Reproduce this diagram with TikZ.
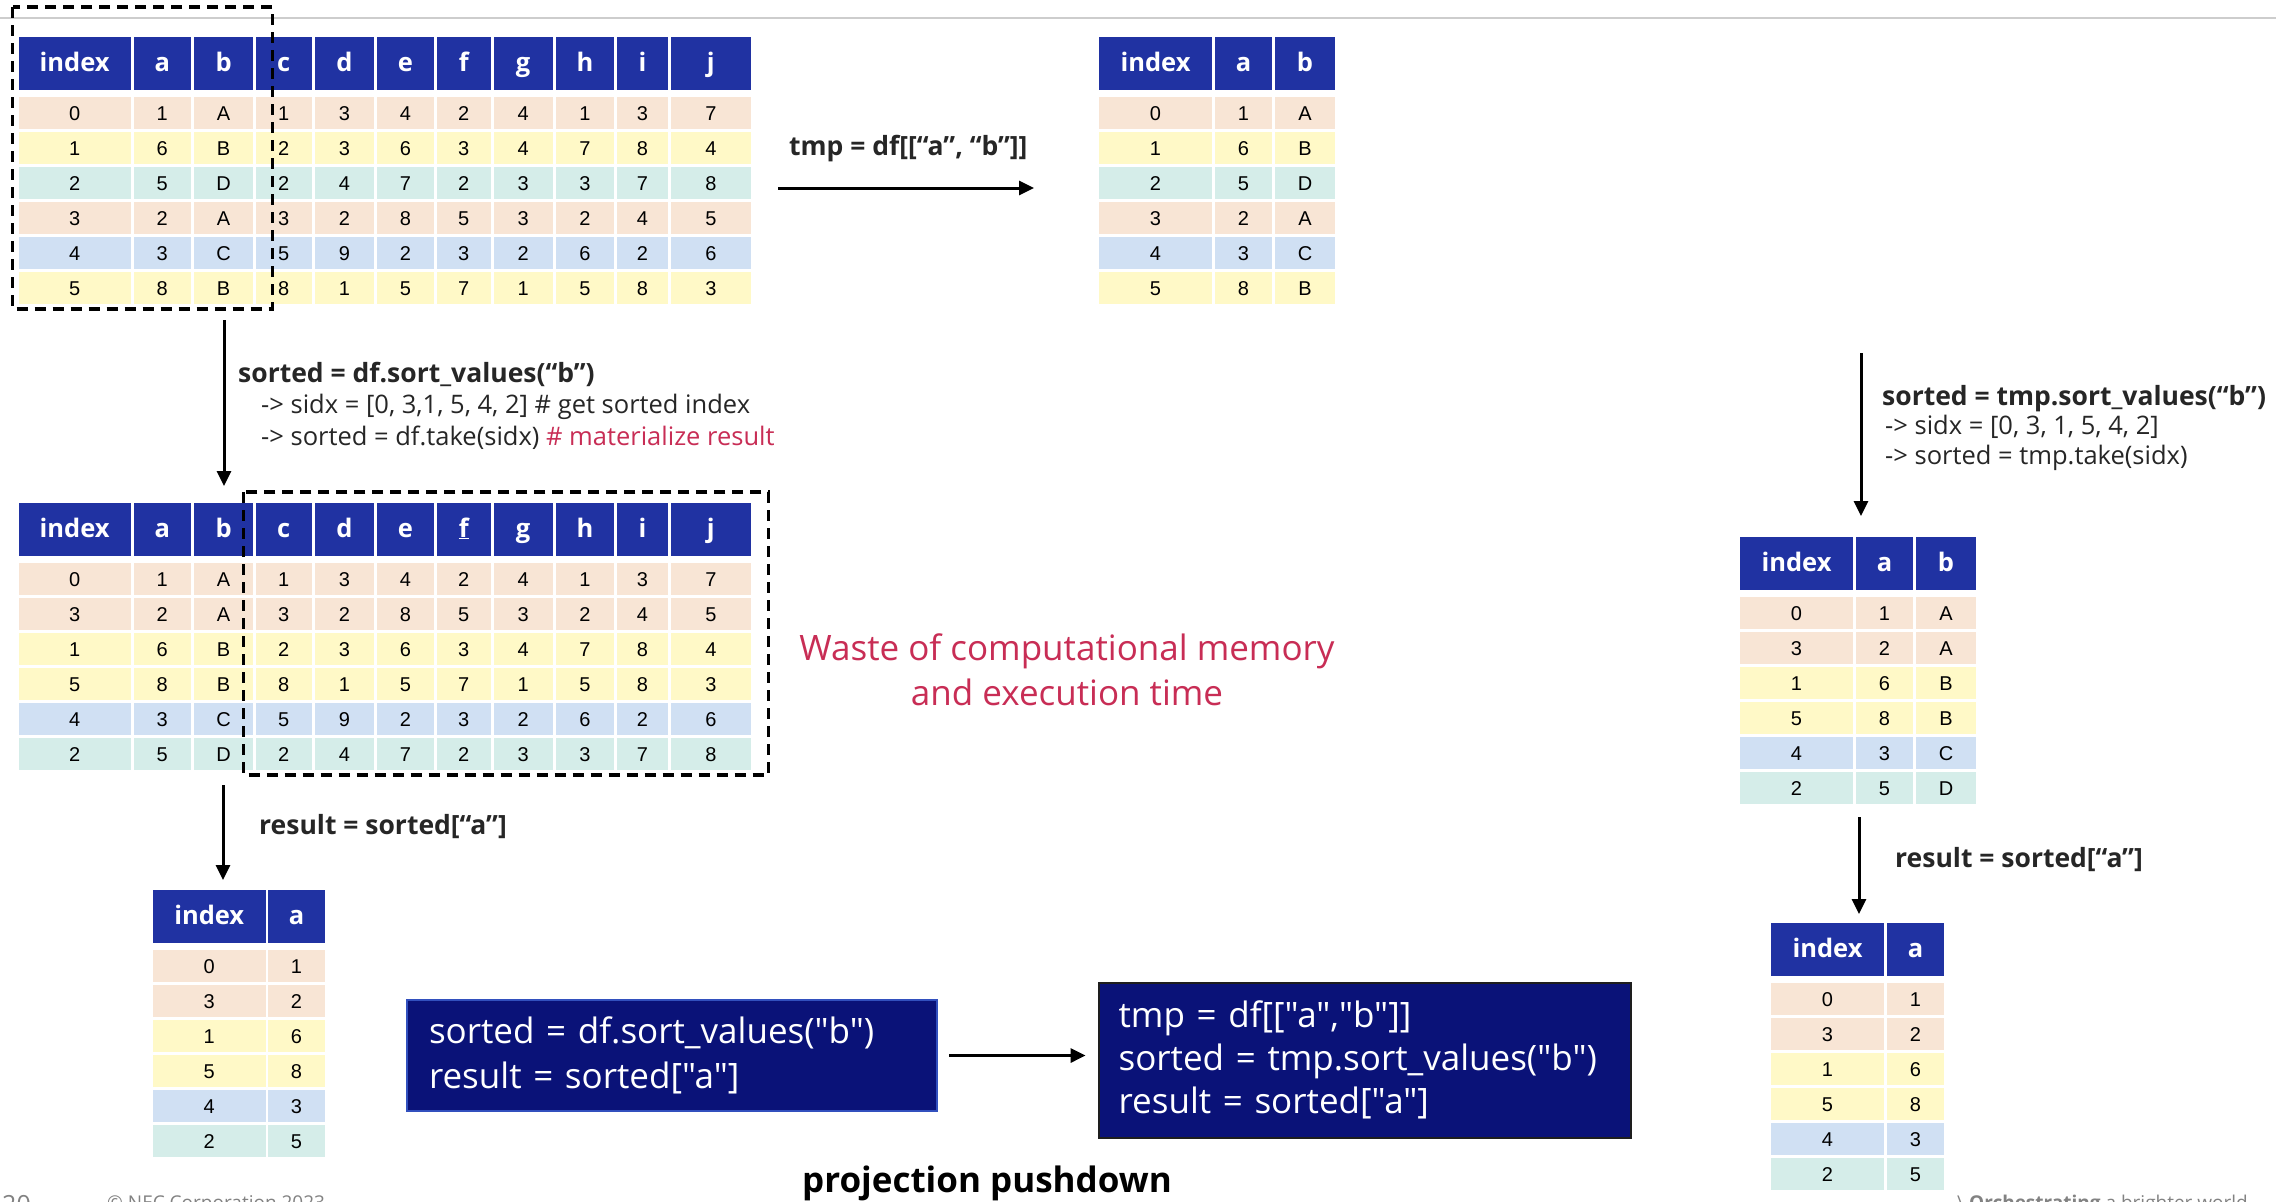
\documentclass[tikz,border=0pt]{standalone}
\usepackage{fontspec}
\setmainfont{Open Sans}
\newfontfamily\arialf{Liberation Sans}
\newfontfamily\codef{Open Sans}[Ligatures=TeXOff]
\usetikzlibrary{arrows.meta}
\definecolor{hdrblue}{RGB}{32,50,162}
\definecolor{pk}{RGB}{248,229,213}
\definecolor{yl}{RGB}{255,249,199}
\definecolor{tl}{RGB}{213,237,233}
\definecolor{bl}{RGB}{208,224,243}
\definecolor{navy}{RGB}{10,18,120}
\definecolor{wred}{RGB}{200,45,85}
\definecolor{lbl}{RGB}{38,38,38}
\definecolor{foot}{RGB}{130,130,130}
\definecolor{gline}{RGB}{205,205,205}
\definecolor{cbone}{RGB}{50,80,190}
\definecolor{cbtwo}{RGB}{30,30,30}
\tikzset{
 hdr/.style={fill=hdrblue, text=white, font=\bfseries\fontsize{25.5}{30}\selectfont, inner sep=0pt, minimum height=52.5pt, text height=20pt, text depth=4pt},
 cell/.style={font=\arialf\fontsize{20}{24}\selectfont, inner sep=0pt, minimum height=32pt, text=black, text height=15pt, text depth=0pt},
 lblb/.style={font=\bfseries\fontsize{26.5}{31}\selectfont, text=lbl, anchor=base west, inner sep=0pt},
 lblr/.style={font=\fontsize{25.5}{30}\selectfont, text=lbl, anchor=base west, inner sep=0pt},
 arr/.style={line width=3pt, -{Triangle[length=15pt,width=14pt]}},
 dashbox/.style={line width=3.5pt, dash pattern=on 11pt off 7pt},
 codebox/.style={fill=navy, text=white, align=left, inner ysep=0pt, anchor=north west, line width=2pt},
 footer/.style={text=foot, anchor=base west, inner sep=0pt},
}
\newcommand\dfhead[3]{%
  \foreach \tx [count=\cc from 0] in {#3} {%
    \pgfmathsetmacro\cL{\CL[\cc]}%
    \pgfmathsetmacro\cR{\CR[\cc]}%
    \pgfmathsetmacro\cW{\cR-\cL}%
    \node[hdr, minimum width=\cW pt] (#1-h\cc) at ({(\cL+\cR)/2},{#2+26.25}) {\tx};
  }}
\newcommand\dfrow[5]{%
  \foreach \tx [count=\cc from 0] in {#5} {%
    \pgfmathsetmacro\cL{\CL[\cc]}%
    \pgfmathsetmacro\cR{\CR[\cc]}%
    \pgfmathsetmacro\cW{\cR-\cL}%
    \node[cell, fill=#4, minimum width=\cW pt] (#1-r#3c\cc) at ({(\cL+\cR)/2},{#2+76+35*#3}) {\tx};
  }}
\begin{document}
\begin{tikzpicture}[x=1pt,y=-1pt]
\useasboundingbox (0,0) rectangle (2276,1202);
\fill[white] (0,0) rectangle (2276,1202);
\draw[gline, line width=1.5pt] (0,18) -- (2276,18);

% ---- big tables
\def\CL{{18.6,133.5,194,255.8,314.7,377,436.9,493.5,555.7,617.1,670.7}}
\def\CR{{130.6,191,253.3,311.7,374,434,490.5,552.8,614.2,667.8,751}}
\dfhead{ta}{37}{index,a,b,c,d,e,f,g,h,i,j}
\dfrow{ta}{37}{0}{pk}{0,1,A,1,3,4,2,4,1,3,7}
\dfrow{ta}{37}{1}{yl}{1,6,B,2,3,6,3,4,7,8,4}
\dfrow{ta}{37}{2}{tl}{2,5,D,2,4,7,2,3,3,7,8}
\dfrow{ta}{37}{3}{pk}{3,2,A,3,2,8,5,3,2,4,5}
\dfrow{ta}{37}{4}{bl}{4,3,C,5,9,2,3,2,6,2,6}
\dfrow{ta}{37}{5}{yl}{5,8,B,8,1,5,7,1,5,8,3}

\dfhead{tb}{503}{index,a,b,c,d,e,\underline{f},g,h,i,j}
\dfrow{tb}{503}{0}{pk}{0,1,A,1,3,4,2,4,1,3,7}
\dfrow{tb}{503}{1}{pk}{3,2,A,3,2,8,5,3,2,4,5}
\dfrow{tb}{503}{2}{yl}{1,6,B,2,3,6,3,4,7,8,4}
\dfrow{tb}{503}{3}{yl}{5,8,B,8,1,5,7,1,5,8,3}
\dfrow{tb}{503}{4}{bl}{4,3,C,5,9,2,3,2,6,2,6}
\dfrow{tb}{503}{5}{tl}{2,5,D,2,4,7,2,3,3,7,8}

% ---- top middle
\def\CL{{1099,1215,1275}}
\def\CR{{1212,1272,1335}}
\dfhead{tc}{37}{index,a,b}
\dfrow{tc}{37}{0}{pk}{0,1,A}
\dfrow{tc}{37}{1}{yl}{1,6,B}
\dfrow{tc}{37}{2}{tl}{2,5,D}
\dfrow{tc}{37}{3}{pk}{3,2,A}
\dfrow{tc}{37}{4}{bl}{4,3,C}
\dfrow{tc}{37}{5}{yl}{5,8,B}

% ---- right middle
\def\CL{{1740,1856,1916}}
\def\CR{{1853,1913,1976}}
\dfhead{td}{537}{index,a,b}
\dfrow{td}{537}{0}{pk}{0,1,A}
\dfrow{td}{537}{1}{pk}{3,2,A}
\dfrow{td}{537}{2}{yl}{1,6,B}
\dfrow{td}{537}{3}{yl}{5,8,B}
\dfrow{td}{537}{4}{bl}{4,3,C}
\dfrow{td}{537}{5}{tl}{2,5,D}

% ---- bottom left
\def\CL{{153,268}}
\def\CR{{265.5,325}}
\dfhead{te}{890}{index,a}
\dfrow{te}{890}{0}{pk}{0,1}
\dfrow{te}{890}{1}{pk}{3,2}
\dfrow{te}{890}{2}{yl}{1,6}
\dfrow{te}{890}{3}{yl}{5,8}
\dfrow{te}{890}{4}{bl}{4,3}
\dfrow{te}{890}{5}{tl}{2,5}

% ---- bottom right
\def\CL{{1771,1887}}
\def\CR{{1884,1944}}
\dfhead{tf}{923}{index,a}
\dfrow{tf}{923}{0}{pk}{0,1}
\dfrow{tf}{923}{1}{pk}{3,2}
\dfrow{tf}{923}{2}{yl}{1,6}
\dfrow{tf}{923}{3}{yl}{5,8}
\dfrow{tf}{923}{4}{bl}{4,3}
\dfrow{tf}{923}{5}{tl}{2,5}

% ---- dashed boxes
\draw[dashbox] (12.6,7) rectangle (272.4,309);
\draw[dashbox] (243.7,492) rectangle (768.5,775);

% ---- labels
\node[lblb] (l1) at (789,155) {tmp = df[[“a”, “b”]]};
\node[lblb] (l2) at (238,382) {sorted = df.sort\_values(“b”)};
\node[lblr] (l3) at (261,413) {-> sidx = [0, 3,1, 5, 4, 2] \# get sorted index};
\node[lblr] (l4) at (261,445) {-> sorted = df.take(sidx) \textcolor{wred}{\# materialize result}};
\node[lblb] (r1) at (1882,405) {sorted = tmp.sort\_values(“b”)};
\node[lblr] (r2) at (1885,434) {-> sidx = [0, 3, 1, 5, 4, 2]};
\node[lblr] (r3) at (1885,464) {-> sorted = tmp.take(sidx)};
\node[lblb] (l5) at (259,834) {result = sorted[“a”]};
\node[lblb] (r4) at (1895,867) {result = sorted[“a”]};
\node[font=\fontsize{35}{45}\selectfont, text=wred, align=center, inner sep=0pt] (waste) at (1067,670) {Waste of computational memory\\and execution time};

% ---- arrows
\coordinate (a1s) at (778,188); \coordinate (a1e) at (1034,188);
\coordinate (a2s) at (224,320); \coordinate (a2e) at (224,486);
\coordinate (a3s) at (1861,353); \coordinate (a3e) at (1861,516);
\coordinate (a4s) at (223,785); \coordinate (a4e) at (223,880);
\coordinate (a5s) at (1859,817); \coordinate (a5e) at (1859,914);
\draw[arr] (a1s) -- (a1e);
\draw[arr] (a2s) -- (a2e);
\draw[arr] (a3s) -- (a3e);
\draw[arr] (a4s) -- (a4e);
\draw[arr] (a5s) -- (a5e);

% ---- code boxes
\node[codebox, draw=cbone, font=\codef\fontsize{35}{45}\selectfont, text width=486pt, inner xsep=22pt, minimum height=111pt] (code1) at (406,999) {sorted = df.sort\_values("b")\\result = sorted["a"]};
\node[codebox, draw=cbtwo, font=\codef\fontsize{35}{43}\selectfont, text width=492pt, inner xsep=20pt, minimum height=155pt] (code2) at (1097.6,981.7) {tmp = df[["a","b"]]\\sorted = tmp.sort\_values("b")\\result = sorted["a"]};
\draw[arr, shorten <=11pt, shorten >=12pt] (code1.east) -- (code1.east -| code2.west);

% ---- caption & footer
\node[font=\bfseries\fontsize{35}{41}\selectfont, anchor=base, inner sep=0pt] (pp) at (987,1192) {projection pushdown};
\node[footer, font=\fontsize{25}{30}\selectfont] (pg) at (2,1213) {20};
\node[footer, font=\fontsize{19}{23}\selectfont] (copy) at (107,1209) {© NEC Corporation 2023};
\node[footer, font=\fontsize{19}{23}\selectfont] (orch) at (1957,1209) {\textbackslash\ \textbf{Orchestrating} a brighter world};
\end{tikzpicture}
\end{document}
